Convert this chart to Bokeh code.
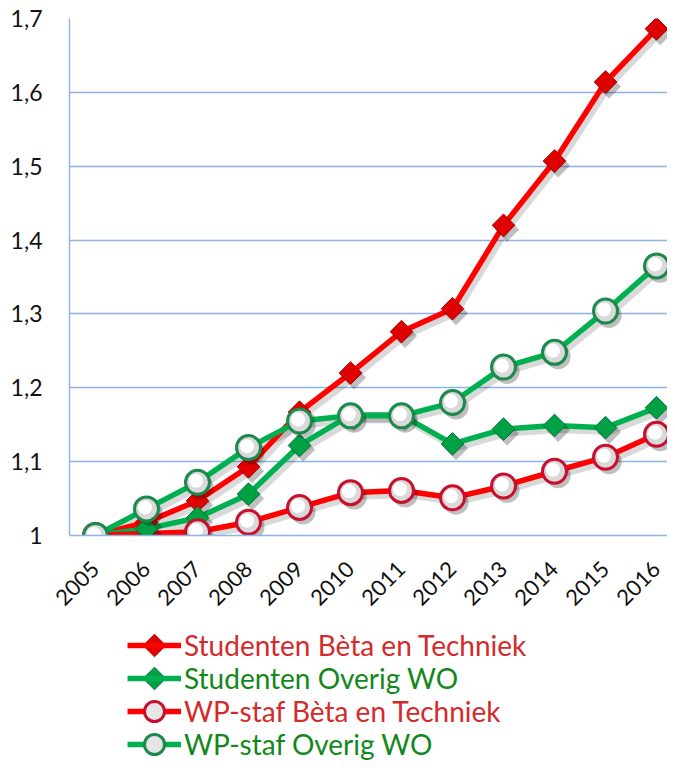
import numpy as np
from bokeh.plotting import figure
from bokeh.models import ColumnDataSource, FixedTicker, Range1d, Legend, LegendItem
from bokeh.layouts import column
from bokeh.transform import dodge
from bokeh.embed import file_html
from bokeh.resources import INLINE

# ---------------- data ----------------
years = [2005, 2006, 2007, 2008, 2009, 2010, 2011, 2012, 2013, 2014, 2015, 2016]
studenten_beta = [1.000, 1.018, 1.047, 1.093, 1.167, 1.220, 1.276, 1.307, 1.420, 1.507, 1.614, 1.686]
studenten_overig = [1.000, 1.009, 1.024, 1.056, 1.122, 1.163, 1.163, 1.124, 1.144, 1.149, 1.146, 1.173]
wp_beta = [1.000, None, 1.005, 1.018, 1.038, 1.058, 1.061, 1.051, 1.067, 1.087, 1.106, 1.137]
wp_overig = [1.000, 1.036, 1.072, 1.119, 1.155, 1.162, 1.162, 1.180, 1.228, 1.248, 1.304, 1.365]

series_names = ["Studenten Bèta en Techniek", "Studenten Overig WO",
                "WP-staf Bèta en Techniek", "WP-staf Overig WO"]
y_ticks = [1.0, 1.1, 1.2, 1.3, 1.4, 1.5, 1.6, 1.7]
y_tick_labels = ["1", "1,1", "1,2", "1,3", "1,4", "1,5", "1,6", "1,7"]

FONT = "Lato"
RED = "#FF0000"
GREEN = "#00B050"
GRID = "#8DB4E2"
RED_TEXT = "#D42A2A"
GREEN_TEXT = "#12881A"


def make_source(vals):
    xs = [x for x, v in zip(years, vals) if v is not None]
    ys = [v for v in vals if v is not None]
    return ColumnDataSource(dict(x=xs, y=ys))


src_sb = make_source(studenten_beta)
src_so = make_source(studenten_overig)
src_wb = make_source(wp_beta)
src_wo = make_source(wp_overig)

FRAME_LEFT = 69
WIDTH = 667

# ---------------- chart ----------------
p = figure(width=WIDTH, height=629, output_backend="svg", toolbar_location=None,
           x_range=Range1d(2004.49, 2016.215), y_range=Range1d(1.0, 1.7),
           min_border_left=FRAME_LEFT, min_border_right=0, min_border_top=18, min_border_bottom=94)
p.outline_line_color = None
p.background_fill_color = "white"
p.border_fill_color = "white"

p.xgrid.visible = False
p.ygrid.ticker = FixedTicker(ticks=y_ticks)
p.ygrid.grid_line_color = GRID
p.ygrid.grid_line_width = 1.4

p.yaxis.ticker = FixedTicker(ticks=y_ticks)
p.yaxis.major_label_overrides = {t: l for t, l in zip(y_ticks, y_tick_labels)}
p.xaxis.ticker = FixedTicker(ticks=years)
p.xaxis.major_label_overrides = {y: str(y) for y in years}
p.xaxis.major_label_orientation = np.pi / 4
for ax in (p.xaxis[0], p.yaxis[0]):
    ax.axis_line_color = GRID
    ax.axis_line_width = 1.4
    ax.major_tick_line_color = None
    ax.minor_tick_line_color = None
    ax.major_label_text_font = FONT
    ax.major_label_text_color = "#111111"
p.yaxis.major_label_text_font_size = "23px"
p.xaxis.major_label_text_font_size = "22px"
p.yaxis.major_label_standoff = 21
p.xaxis.major_label_standoff = 24

SHX, SHY = 0.07, -0.006

lines = [(src_sb, RED), (src_so, GREEN), (src_wb, RED), (src_wo, GREEN)]
for src, col in lines:
    p.line(x=dodge("x", SHX), y=dodge("y", SHY), source=src,
           line_color="black", line_alpha=0.15, line_width=6)
for src, col in lines:
    p.line("x", "y", source=src, line_color=col, line_width=5.5, line_join="round")

diamond_red = dict(marker="square", angle=np.pi / 4, fill_color="#E00000", line_color="#A80000", line_width=1)
diamond_green = dict(marker="square", angle=np.pi / 4, fill_color="#00A045", line_color="#00753A", line_width=1)
ring_red = dict(marker="circle", fill_color="#D9D9D9", line_color="#C8102E", line_width=3)
ring_green = dict(marker="circle", fill_color="#D9D9D9", line_color="#1B8A4C", line_width=3)

for src, style, size in [(src_sb, diamond_red, 16), (src_so, diamond_green, 16),
                         (src_wb, ring_red, 24), (src_wo, ring_green, 24)]:
    p.scatter(x=dodge("x", SHX), y=dodge("y", SHY), source=src, marker=style["marker"],
              angle=style.get("angle", 0), size=size + 1, fill_color="black", fill_alpha=0.25,
              line_color=None)
    p.scatter("x", "y", source=src, size=size, **style)
    if style["marker"] == "circle":
        p.scatter(x=dodge("x", -0.03), y=dodge("y", 0.002), source=src, marker="circle",
                  size=14, fill_color="white", line_color=None)

# ---------------- legend panel ----------------
LEG_H = 131
LEG_X = 127 - FRAME_LEFT      # legend glyph start, px from frame left
GLYPH_W = 54
q = figure(width=WIDTH, height=LEG_H, output_backend="svg", toolbar_location=None,
           x_range=Range1d(0, WIDTH - FRAME_LEFT), y_range=Range1d(0, LEG_H),
           x_axis_type=None, y_axis_type=None,
           min_border_left=FRAME_LEFT, min_border_right=0, min_border_top=0, min_border_bottom=0)
q.outline_line_color = None
q.xgrid.visible = False
q.ygrid.visible = False

nan_src = ColumnDataSource(dict(x=[float("nan")], y=[float("nan")]))
leg_styles = [
    (RED, dict(diamond_red), RED_TEXT, 40),
    (GREEN, dict(diamond_green), GREEN_TEXT, 40),
    (RED, dict(ring_red, fill_color="#E6E6E6"), RED_TEXT, 50),
    (GREEN, dict(ring_green, fill_color="#E6E6E6"), GREEN_TEXT, 50),
]
row_centers = [16, 49, 82, 115]   # px from top of legend panel
for name, (lc, mk, tc, gh), c in zip(series_names, leg_styles, row_centers):
    lr = q.line("x", "y", source=nan_src, line_color=lc, line_width=5.5)
    rends = [lr]
    if mk["marker"] == "circle":
        rends.append(q.scatter("x", "y", source=nan_src, **mk))
    else:
        # rotated-square (diamond) key marker, centred on the legend glyph area
        q.scatter(x=[LEG_X + GLYPH_W / 2], y=[LEG_H - c], size=16, **mk)
    leg = Legend(items=[LegendItem(label=name, renderers=rends)],
                 location=(LEG_X, LEG_H - (c + gh / 2)),
                 glyph_width=GLYPH_W, glyph_height=gh, label_height=30, label_standoff=3,
                 padding=0, margin=0, spacing=0,
                 border_line_color=None, background_fill_alpha=0,
                 label_text_font=FONT, label_text_font_size="28px", label_text_color=tc)
    q.add_layout(leg, "center")

layout = column(p, q, spacing=0)
open("out.html", "w").write(file_html(layout, INLINE))
